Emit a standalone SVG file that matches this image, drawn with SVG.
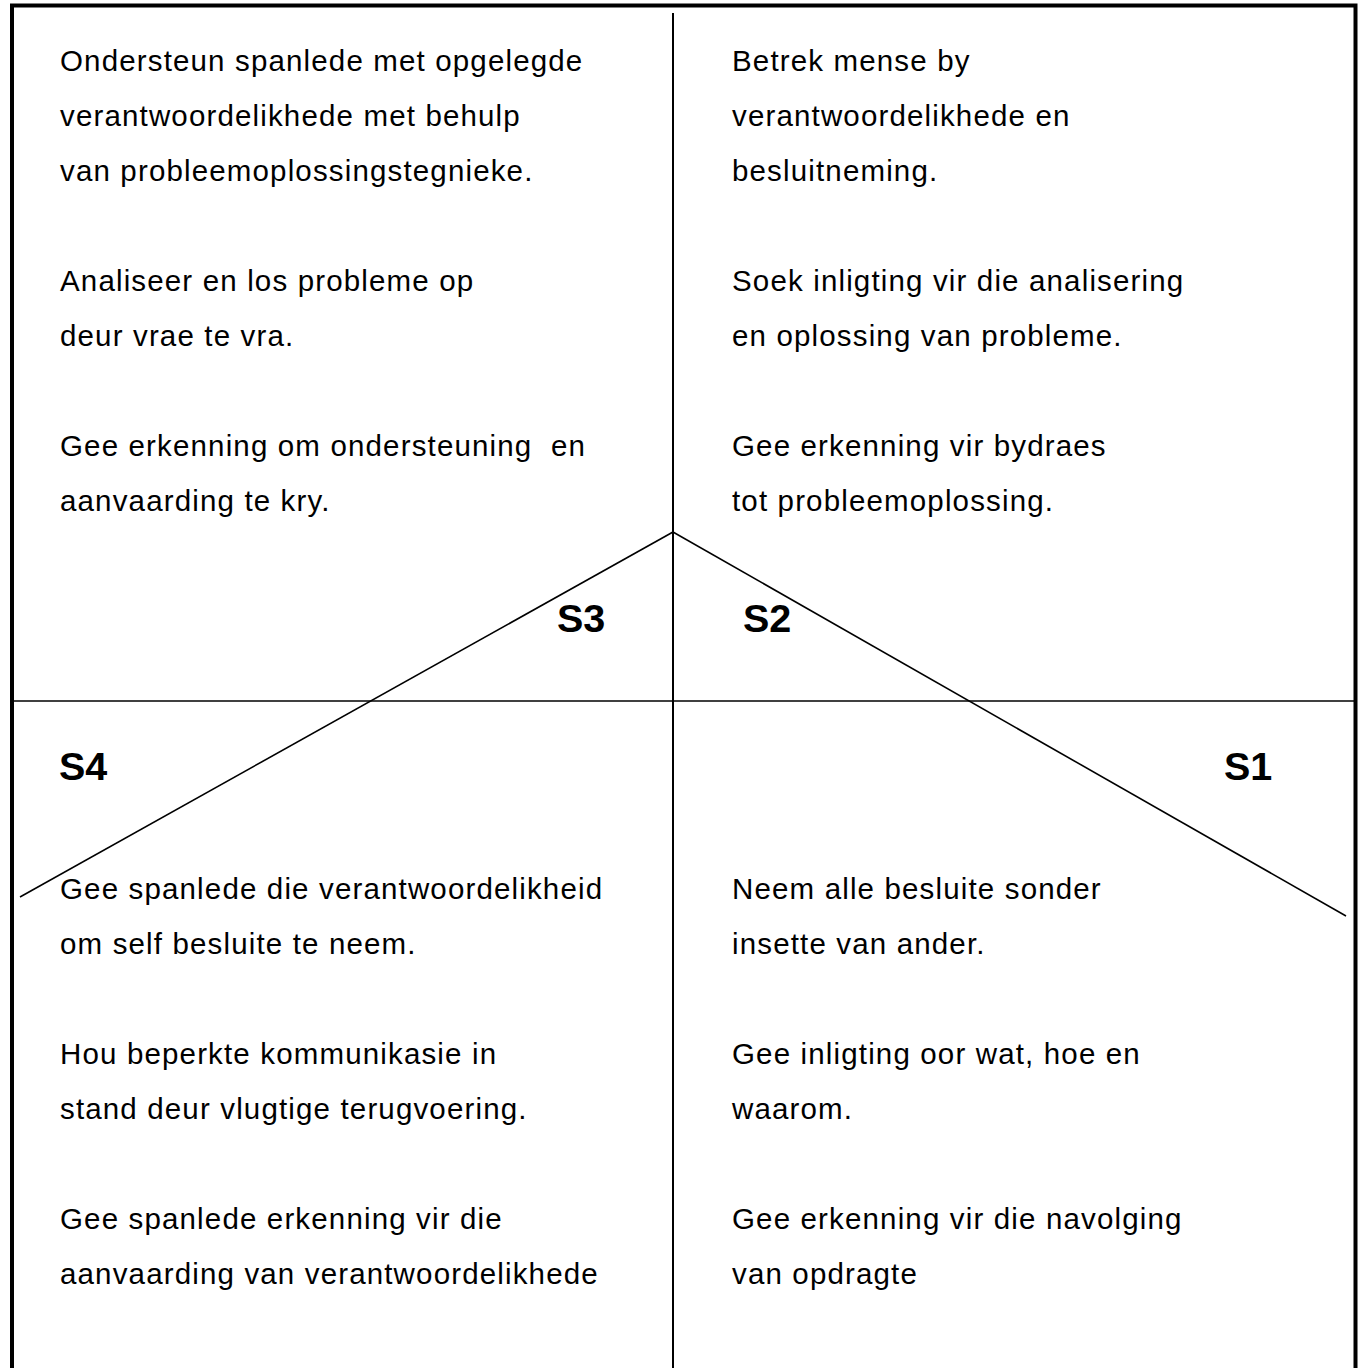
<svg xmlns="http://www.w3.org/2000/svg" width="1361" height="1368" viewBox="0 0 1361 1368">
  <style>
    .body { font-family: "Liberation Sans", Arial, sans-serif; font-size: 29.5px; letter-spacing: 1.15px; fill: #000; }
    .tag { font-family: "Liberation Sans", Arial, sans-serif; font-size: 39.5px; font-weight: bold; fill: #000; }
    .rule { stroke: #000; fill: none; }
  </style>
  <rect width="1361" height="1368" fill="#fff"/>

  <!-- frame, open at the bottom -->
  <g id="frame">
    <rect x="12" y="5.5" width="1343.5" height="1420" fill="none" stroke="#000" stroke-width="4"/>
  </g>

  <!-- quadrant rules and the style curve -->
  <g id="connectors">
    <line class="rule" x1="673" y1="13" x2="673" y2="1368" stroke-width="2"/>
    <line class="rule" x1="12" y1="701" x2="1355" y2="701" stroke-width="1.6"/>
    <line class="rule" x1="673" y1="532" x2="20" y2="897" stroke-width="1.6"/>
    <line class="rule" x1="673" y1="532" x2="1346" y2="916" stroke-width="1.6"/>
  </g>

  <!-- S3: top left -->
  <g id="q-s3">
    <text class="body" x="60" y="71">Ondersteun spanlede met opgelegde</text>
    <text class="body" x="60" y="126">verantwoordelikhede met behulp</text>
    <text class="body" x="60" y="181">van probleemoplossingstegnieke.</text>
    <text class="body" x="60" y="291">Analiseer en los probleme op</text>
    <text class="body" x="60" y="346">deur vrae te vra.</text>
    <text class="body" x="60" y="456">Gee erkenning om ondersteuning&#160; en</text>
    <text class="body" x="60" y="511">aanvaarding te kry.</text>
    <text class="tag" x="557" y="632">S3</text>
  </g>

  <!-- S2: top right -->
  <g id="q-s2">
    <text class="body" x="732" y="71">Betrek mense by</text>
    <text class="body" x="732" y="126">verantwoordelikhede en</text>
    <text class="body" x="732" y="181">besluitneming.</text>
    <text class="body" x="732" y="291">Soek inligting vir die analisering</text>
    <text class="body" x="732" y="346">en oplossing van probleme.</text>
    <text class="body" x="732" y="456">Gee erkenning vir bydraes</text>
    <text class="body" x="732" y="511">tot probleemoplossing.</text>
    <text class="tag" x="743" y="632">S2</text>
  </g>

  <!-- S4: bottom left -->
  <g id="q-s4">
    <text class="tag" x="59" y="780">S4</text>
    <text class="body" x="60" y="899">Gee spanlede die verantwoordelikheid</text>
    <text class="body" x="60" y="954">om self besluite te neem.</text>
    <text class="body" x="60" y="1064">Hou beperkte kommunikasie in</text>
    <text class="body" x="60" y="1119">stand deur vlugtige terugvoering.</text>
    <text class="body" x="60" y="1229">Gee spanlede erkenning vir die</text>
    <text class="body" x="60" y="1284">aanvaarding van verantwoordelikhede</text>
  </g>

  <!-- S1: bottom right -->
  <g id="q-s1">
    <text class="tag" x="1224" y="780">S1</text>
    <text class="body" x="732" y="899">Neem alle besluite sonder</text>
    <text class="body" x="732" y="954">insette van ander.</text>
    <text class="body" x="732" y="1064">Gee inligting oor wat, hoe en</text>
    <text class="body" x="732" y="1119">waarom.</text>
    <text class="body" x="732" y="1229">Gee erkenning vir die navolging</text>
    <text class="body" x="732" y="1284">van opdragte</text>
  </g>
</svg>
